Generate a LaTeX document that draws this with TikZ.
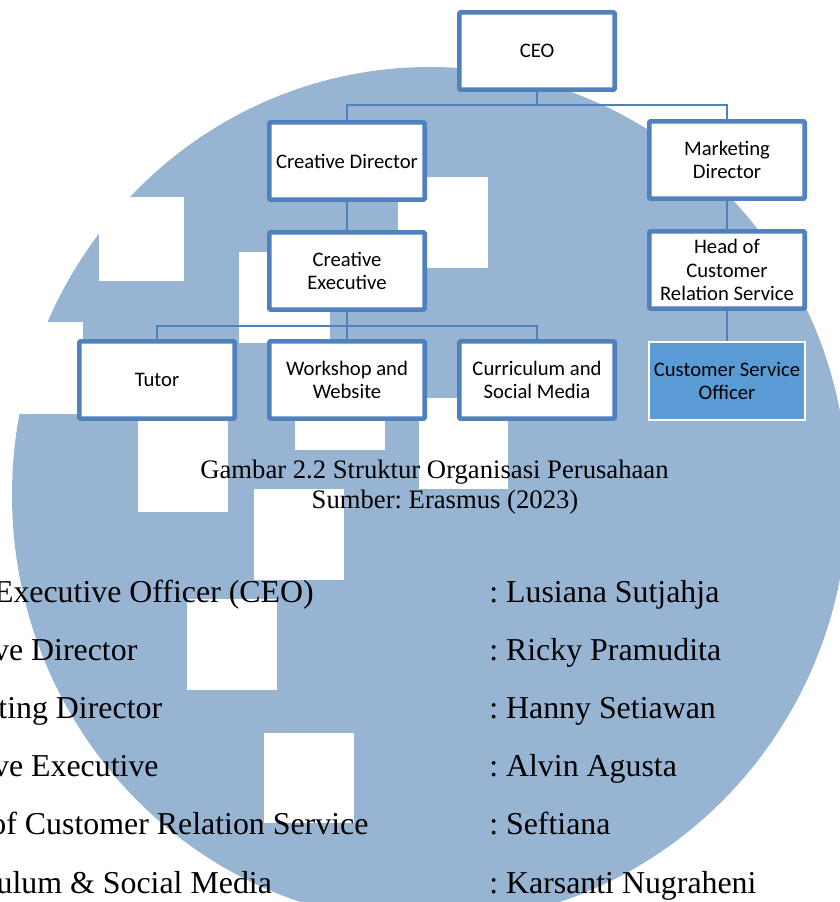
\documentclass[tikz,border=0pt]{standalone}
\usepackage{fontspec}
\setmainfont{Liberation Serif}
\newfontfamily\boxfont{Carlito}
\frenchspacing
\definecolor{logoblue}{RGB}{151,180,210}
\definecolor{boxline}{RGB}{79,129,189}
\definecolor{boxfill}{RGB}{91,155,213}
\tikzset{
    orgbox/.style={draw=boxline, line width=3.4pt, fill=white, rounded corners=1pt,
        minimum width=116.6pt, minimum height=58pt, inner sep=1pt, align=center,
        font=\boxfont\fontsize{15.5}{17.6}\selectfont},
    staffbox/.style={orgbox, draw=white, line width=1.5pt, fill=boxfill, rounded corners=0pt},
    link/.style={draw=boxline, line width=1.5pt},
    captiontext/.style={font=\fontsize{20}{24}\selectfont, inner sep=0pt, anchor=base},
    listtext/.style={font=\fontsize{23.9}{28}\selectfont, inner sep=0pt, anchor=base west},
}

\begin{document}
\begin{tikzpicture}[x=0.75pt,y=-0.75pt]
\useasboundingbox (0,0) rectangle (839,902);
\fill[logoblue] (430,495) ellipse [x radius=313.5pt, y radius=321pt];
\fill[white] (99,197) rectangle (184,281);
\fill[white] (-10,322) rectangle (83,414);
\fill[white] (138,380) rectangle (228,512);
\fill[white] (239,252) rectangle (330,343);
\fill[white] (398,177) rectangle (488,268);
\fill[white] (295,360) rectangle (385,450);
\fill[white] (419,398) rectangle (508,489);
\fill[white] (254,489) rectangle (344,580);
\fill[white] (187,599) rectangle (277,690);
\fill[white] (264,733) rectangle (354,823);

\node[orgbox] (ceo) at (537,51) {CEO};
\node[orgbox] (cd) at (347,161) {Creative Director};
\node[orgbox] (md) at (727,160) {Marketing\\Director};
\node[orgbox] (ce) at (347,271) {Creative\\Executive};
\node[orgbox] (hcrs) at (727,270) {Head of\\Customer\\Relation Service};
\node[orgbox] (tutor) at (157,380) {Tutor};
\node[orgbox] (ws) at (347,380) {Workshop and\\Website};
\node[orgbox] (csm) at (537,380) {Curriculum and\\Social Media};
\node[staffbox] (cso) at (727,381) {Customer Service\\Officer};

\coordinate (topbus) at (537,105);
\coordinate (lowbus) at (347,326);
\draw[link] (ceo) -- (topbus) -| (cd);
\draw[link] (topbus) -| (md);
\draw[link] (cd) -- (ce);
\draw[link] (md) -- (hcrs);
\draw[link] (hcrs) -- (cso);
\draw[link] (ce) -- (lowbus) -| (tutor);
\draw[link] (lowbus) -- (ws);
\draw[link] (lowbus) -| (csm);

\node[captiontext] (cap1) at (434.5,478) {Gambar 2.2 Struktur Organisasi Perusahaan};
\node[captiontext] (cap2) at (445,508) {Sumber: Erasmus (2023)};

\foreach \i/\role/\person in {0/Chief Executive Officer (CEO)/Lusiana Sutjahja,
    1/Creative Director/Ricky Pramudita,
    2/Marketing Director/Hanny Setiawan,
    3/Creative Executive/Alvin Agusta,
    4/Head of Customer Relation Service/Seftiana,
    5/Curriculum \& Social Media/Karsanti Nugraheni}{
    \node[listtext] (role\i) at (-85,{602+58.2*\i}) {\role};
    \node[listtext] (name\i) at (489,{602+58.2*\i}) {: \person};
}
\end{tikzpicture}
\end{document}
